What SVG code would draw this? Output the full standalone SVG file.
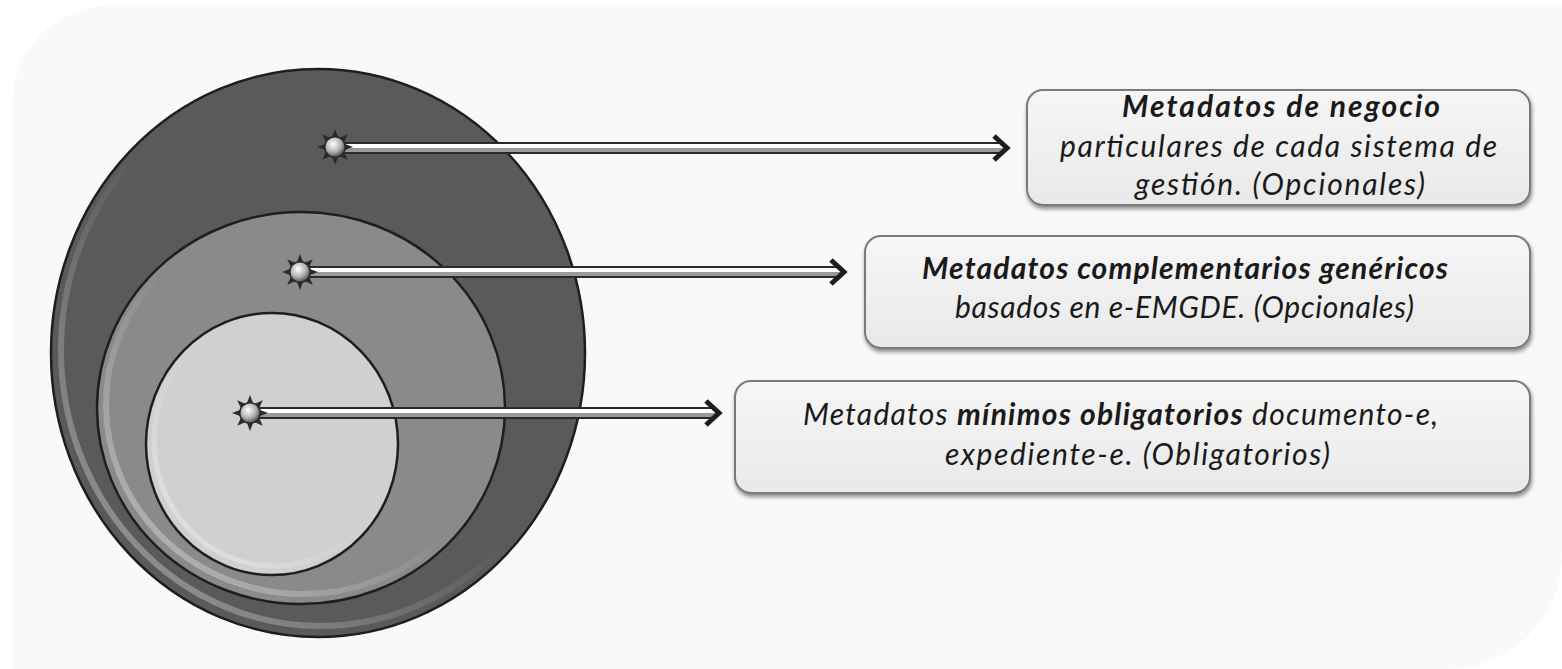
<svg xmlns="http://www.w3.org/2000/svg" width="1562" height="669" viewBox="0 0 1562 669">
<defs>
<style>
.t{font-family:Lato,"Open Sans","Liberation Sans",sans-serif;font-style:italic;font-size:30px;fill:#1a1a1a}
.b{font-weight:bold}
.box{fill:url(#boxg);stroke:#7a7a7a;stroke-width:2;filter:url(#sh)}
.ring{stroke:#1e1e1e;stroke-width:2.5}
.tubeo{stroke:#2a2a2a;stroke-width:12;fill:none}
.tubem{stroke:#9a9a9a;stroke-width:8;fill:none}
.tubei{stroke:#ffffff;stroke-width:4;fill:none}
.head{fill:none;stroke:#1e1e1e;stroke-width:5;stroke-linejoin:miter}
</style>
<linearGradient id="boxg" x1="0" y1="0" x2="0" y2="1">
<stop offset="0" stop-color="#f6f6f6"/>
<stop offset="1" stop-color="#e9e9e9"/>
</linearGradient>
<filter id="sh" x="-5%" y="-10%" width="110%" height="130%">
<feGaussianBlur in="SourceAlpha" stdDeviation="2"/>
<feOffset dx="1" dy="3" result="o"/>
<feComponentTransfer><feFuncA type="linear" slope="0.45"/></feComponentTransfer>
<feMerge><feMergeNode/><feMergeNode in="SourceGraphic"/></feMerge>
</filter>
<linearGradient id="hl" x1="1" y1="0" x2="0" y2="1">
<stop offset="0.5" stop-color="#ffffff" stop-opacity="0"/>
<stop offset="0.85" stop-color="#ffffff" stop-opacity="0.3"/>
</linearGradient>
<radialGradient id="ball" cx="0.4" cy="0.35" r="0.7">
<stop offset="0" stop-color="#ffffff"/>
<stop offset="0.6" stop-color="#b0b0b0"/>
<stop offset="1" stop-color="#4a4a4a"/>
</radialGradient>
<g id="sun">
<g fill="#2a2a2a">
<path d="M0,-18 L3,-10 L-3,-10 Z"/>
<path d="M0,-18 L3,-10 L-3,-10 Z" transform="rotate(45)"/>
<path d="M0,-18 L3,-10 L-3,-10 Z" transform="rotate(90)"/>
<path d="M0,-18 L3,-10 L-3,-10 Z" transform="rotate(135)"/>
<path d="M0,-18 L3,-10 L-3,-10 Z" transform="rotate(180)"/>
<path d="M0,-18 L3,-10 L-3,-10 Z" transform="rotate(225)"/>
<path d="M0,-18 L3,-10 L-3,-10 Z" transform="rotate(270)"/>
<path d="M0,-18 L3,-10 L-3,-10 Z" transform="rotate(315)"/>
</g>
<circle r="11" fill="#2a2a2a"/>
<circle r="9.5" fill="url(#ball)"/>
</g>
</defs>

<path d="M12,105 A100,100 0 0 1 112,5 L1562,5 L1562,555 A114,114 0 0 1 1448,669 L12,669 Z" fill="#f9f9f9"/>

<g id="rings">
<g id="outer">
<ellipse cx="318" cy="353" rx="267" ry="284" fill="#5a5a5a" class="ring"/>
<ellipse cx="320" cy="350" rx="259" ry="276" fill="none" stroke="url(#hl)" stroke-width="6"/>
</g>
<g id="middle">
<ellipse cx="301" cy="408" rx="204" ry="196" fill="#8a8a8a" class="ring"/>
<ellipse cx="303" cy="405" rx="197" ry="189" fill="none" stroke="url(#hl)" stroke-width="6"/>
</g>
<g id="inner">
<ellipse cx="272" cy="444" rx="126" ry="131" fill="#d0d0d0" class="ring"/>
<ellipse cx="274" cy="441" rx="120" ry="125" fill="none" stroke="url(#hl)" stroke-width="5"/>
</g>
</g>

<g id="connectors">
<path class="tubeo" d="M335,148 H1003"/>
<path class="tubem" d="M335,148 H1003"/>
<path class="tubei" d="M335,146 H1003"/>
<path class="head" d="M994,136 L1007,148 L994,160"/>
<path class="tubeo" d="M300,272 H840"/>
<path class="tubem" d="M300,272 H840"/>
<path class="tubei" d="M300,270 H840"/>
<path class="head" d="M831,260 L844,272 L831,284"/>
<path class="tubeo" d="M250,413 H715"/>
<path class="tubem" d="M250,413 H715"/>
<path class="tubei" d="M250,411 H715"/>
<path class="head" d="M706,401 L719,413 L706,425"/>
</g>

<g id="pins">
<use href="#sun" x="335" y="147"/>
<use href="#sun" x="300" y="272"/>
<use href="#sun" x="250" y="413"/>
</g>

<g id="box1">
<rect class="box" x="1027" y="90" width="503" height="115" rx="16"/>
<text class="t b" x="1122" y="117" textLength="318" lengthAdjust="spacing">Metadatos de negocio</text>
<text class="t" x="1060" y="157" textLength="437" lengthAdjust="spacing">particulares de cada sistema de</text>
<text class="t" x="1135" y="195" textLength="290" lengthAdjust="spacing">gestión. (Opcionales)</text>
</g>
<g id="box2">
<rect class="box" x="865" y="236" width="665" height="112" rx="16"/>
<text class="t b" x="922" y="279" textLength="526" lengthAdjust="spacing">Metadatos complementarios genéricos</text>
<text class="t" x="955" y="318" textLength="459" lengthAdjust="spacing">basados en e-EMGDE. (Opcionales)</text>
</g>
<g id="box3">
<rect class="box" x="735" y="381" width="795" height="112" rx="16"/>
<text class="t" x="803" y="425" textLength="635" lengthAdjust="spacing">Metadatos <tspan class="b">mínimos obligatorios</tspan> documento-e,</text>
<text class="t" x="945" y="465" textLength="385" lengthAdjust="spacing">expediente-e. (Obligatorios)</text>
</g>
</svg>
